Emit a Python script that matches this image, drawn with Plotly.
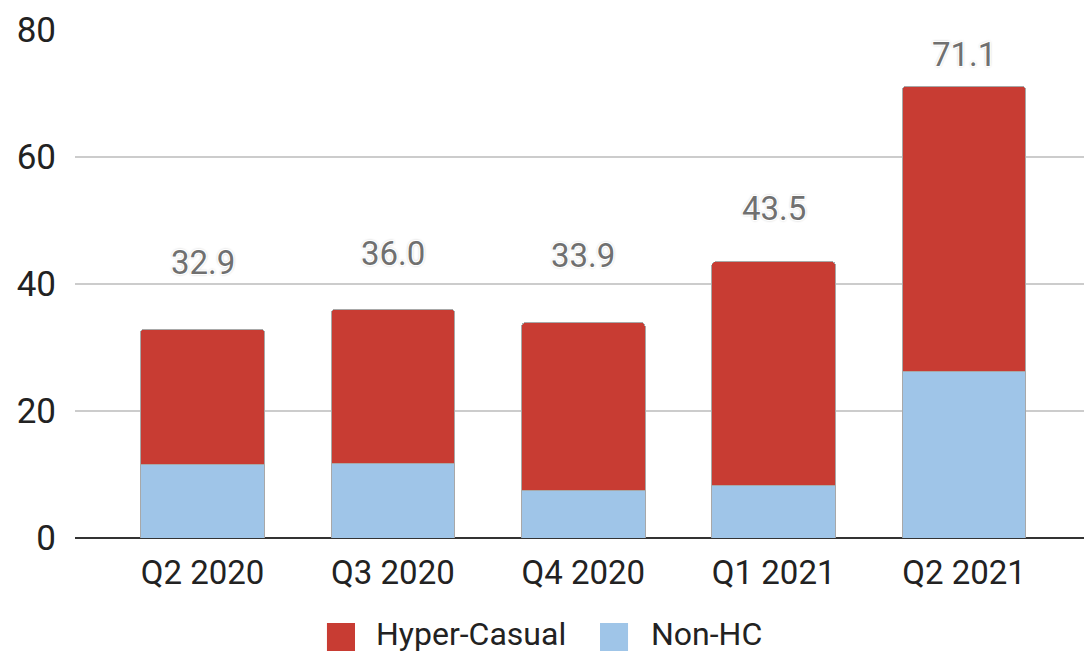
import plotly.graph_objects as go

categories = ["Q2 2020", "Q3 2020", "Q4 2020", "Q1 2021", "Q2 2021"]
totals = [32.9, 36.0, 33.9, 43.5, 71.1]
non_hc = [11.5, 11.8, 7.5, 8.2, 26.3]
hyper_casual = [round(t - n, 1) for t, n in zip(totals, non_hc)]
total_labels = ["32.9", "36.0", "33.9", "43.5", "71.1"]
label_shift = [67, 56, 67, 53, 32]
series_names = ["Hyper-Casual", "Non-HC"]

RED = "#C83C33"
BLUE = "#9FC5E8"
FONT = "Roboto"

fig = go.Figure()
fig.add_trace(go.Bar(x=categories, y=non_hc, name=series_names[1],
                     marker=dict(color=BLUE, line=dict(color="#a8a8a8", width=1)),
                     width=0.65))
fig.add_trace(go.Bar(x=categories, y=hyper_casual, name=series_names[0],
                     marker=dict(color=RED, line=dict(color="#a8a8a8", width=1)),
                     width=0.65))

for c, t, lab, s in zip(categories, totals, total_labels, label_shift):
    fig.add_annotation(x=c, y=t, text=lab, showarrow=False, yshift=s,
                       font=dict(family=FONT, size=33, color="#707070",
                                 shadow="1px 1px 0 #fff, -1px -1px 0 #fff, 1px -1px 0 #fff, -1px 1px 0 #fff, 0 0 3px #888"))

# custom legend (large rounded squares like the reference)
legend_items = [
    (series_names[0], RED, 0.2497, 0.2775, 0.2963),
    (series_names[1], BLUE, 0.5203, 0.5481, 0.5689),
]
for name, col, x0, x1, xt in legend_items:
    fig.add_shape(type="rect", xref="paper", yref="paper", x0=x0, x1=x1,
                  y0=-0.2224, y1=-0.1673, fillcolor=col, line=dict(width=0),
                  layer="above")
    fig.add_annotation(xref="paper", yref="paper", x=xt, y=-0.188, text=name,
                       showarrow=False, xanchor="left", yanchor="middle",
                       font=dict(family=FONT, size=32, color="#222"))

fig.update_layout(
    barmode="stack",
    barcornerradius=4,
    width=1084, height=654,
    margin=dict(l=75, r=0, t=30, b=116, autoexpand=False),
    paper_bgcolor="white", plot_bgcolor="white",
    font=dict(family=FONT, size=34, color="#222"),
    showlegend=False,
)
fig.update_xaxes(range=[-0.67, 4.63], showgrid=False, showline=False,
                 ticks="", ticklabelstandoff=12, tickfont=dict(size=33))
fig.update_yaxes(range=[0, 80], tickvals=[0, 20, 40, 60, 80], showgrid=True,
                 gridcolor="#cccccc", gridwidth=2, zeroline=True,
                 zerolinecolor="#333333", zerolinewidth=2,
                 ticklabelstandoff=18, tickfont=dict(size=35))

fig.write_html("out.html")
